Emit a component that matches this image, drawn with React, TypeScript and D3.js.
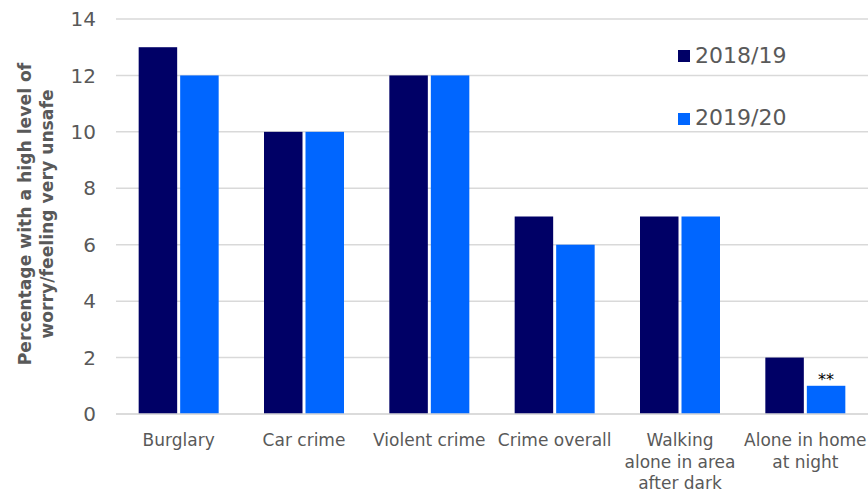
import React from "react";
import * as d3 from "d3";

const categories: string[][] = [
  ["Burglary"],
  ["Car crime"],
  ["Violent crime"],
  ["Crime overall"],
  ["Walking", "alone in area", "after dark"],
  ["Alone in home", "at night"],
];
const series1Name = "2018/19";
const series2Name = "2019/20";
const series1: number[] = [13, 10, 12, 7, 7, 2];
const series2: number[] = [12, 10, 12, 6, 7, 1];
const yTicks: number[] = [0, 2, 4, 6, 8, 10, 12, 14];
const annotations: (string | null)[] = [null, null, null, null, null, "**"];

const W = 868;
const H = 494;
const margin = { left: 116, right: 0, top: 19, bottom: 80 };
const FONT = "'Century Gothic', 'DejaVu Sans', sans-serif";

export default function App() {
  const x = d3
    .scaleBand<number>()
    .domain(d3.range(categories.length))
    .range([margin.left, W - margin.right])
    .paddingInner(0)
    .paddingOuter(0);
  const y = d3.scaleLinear().domain([0, 14]).range([H - margin.bottom, margin.top]);
  const bw = x.bandwidth();
  const barW = 38.5;
  const gap = 3;
  const dark = "#000066";
  const light = "#0066FF";
  const grey = "#595959";

  return (
    <svg
      width={W}
      height={H}
      style={{ position: "absolute", left: 0, top: 0, background: "#fff" }}
      fontFamily={FONT}
    >
      {yTicks.map((t) => (
        <g key={t}>
          <line
            x1={margin.left}
            x2={W - margin.right}
            y1={y(t)}
            y2={y(t)}
            stroke="#d9d9d9"
            strokeWidth={1.5}
          />
          <text x={96} y={y(t)} dy="0.36em" textAnchor="end" fontSize={20} fill={grey}>
            {t}
          </text>
        </g>
      ))}
      {categories.map((c, i) => {
        const cx = (x(i) as number) + bw / 2;
        return (
          <g key={i}>
            <rect
              x={cx - gap / 2 - barW}
              y={y(series1[i])}
              width={barW}
              height={y(0) - y(series1[i])}
              fill={dark}
            />
            <rect
              x={cx + gap / 2}
              y={y(series2[i])}
              width={barW}
              height={y(0) - y(series2[i])}
              fill={light}
            />
            {annotations[i] && (
              <text
                x={cx + gap / 2 + barW / 2}
                y={y(series2[i]) - 1}
                textAnchor="middle"
                fontSize={16}
                fill="#000"
              >
                {annotations[i]}
              </text>
            )}
            {c.map((line, j) => (
              <text
                key={j}
                x={cx}
                y={446 + j * 21.5}
                textAnchor="middle"
                fontSize={17}
                fill={grey}
              >
                {line}
              </text>
            ))}
          </g>
        );
      })}
      <line x1={margin.left} x2={W} y1={y(0)} y2={y(0)} stroke="#d9d9d9" strokeWidth={1.5} />
      <g transform={`translate(31, 214) rotate(-90)`}>
        <text textAnchor="middle" fontSize={17.2} fontWeight="bold" fill={grey}>
          <tspan x={0} y={0}>Percentage with a high level of</tspan>
          <tspan x={0} y={22}>worry/feeling very unsafe</tspan>
        </text>
      </g>
      <g>
        <rect x={678} y={50} width={12} height={12} fill={dark} />
        <text x={695} y={63} fontSize={22} fill={grey}>
          {series1Name}
        </text>
        <rect x={678} y={113} width={12} height={12} fill={light} />
        <text x={695} y={125} fontSize={22} fill={grey}>
          {series2Name}
        </text>
      </g>
    </svg>
  );
}
